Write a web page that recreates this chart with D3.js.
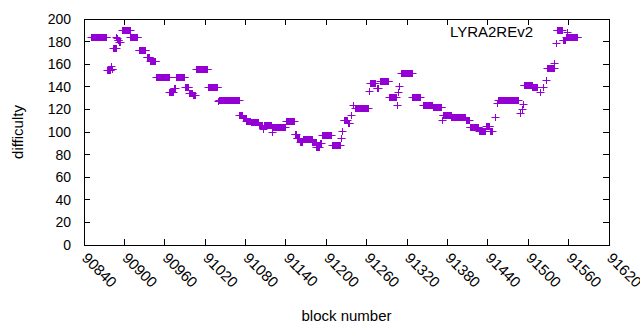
<!DOCTYPE html>
<html>
<head>
<meta charset="utf-8">
<script src="https://cdn.jsdelivr.net/npm/d3@7"></script>
<style>
  body { margin: 0; background: #fff; }
  text { font-family: "Liberation Sans", Arial, sans-serif; fill: #000; }
</style>
</head>
<body>
<div class="container"></div>
<script>
// runs of blocks: first block, last block, difficulty
var runStart = [90851, 90874, 90880, 90881, 90883, 90888, 90889, 90890, 90892, 90897,
                90909, 90921, 90933, 90938, 90947, 90967, 90973, 90977, 90990, 90996,
                91002, 91007, 91024, 91039, 91040, 91071, 91076, 91081, 91088, 91100,
                91106, 91107, 91119, 91120, 91121, 91140, 91153, 91156, 91161, 91165,
                91179, 91185, 91190, 91194, 91209, 91222, 91223, 91226, 91232, 91236,
                91239, 91243, 91264, 91265, 91275, 91280, 91293, 91305, 91307, 91308,
                91311, 91328, 91344, 91358, 91372, 91373, 91386, 91399, 91407, 91413,
                91427, 91437, 91443, 91451, 91454, 91455, 91488, 91490, 91492, 91493,
                91506, 91517, 91522, 91526, 91528, 91539, 91541, 91542, 91551, 91556];
var runEnd   = [90873, 90879, 90880, 90882, 90887, 90888, 90889, 90891, 90893, 90908,
                90919, 90931, 90937, 90946, 90966, 90972, 90975, 90989, 90995, 91001,
                91005, 91023, 91038, 91039, 91070, 91075, 91080, 91087, 91099, 91105,
                91106, 91118, 91119, 91120, 91138, 91152, 91155, 91160, 91164, 91178,
                91184, 91189, 91192, 91207, 91220, 91222, 91223, 91230, 91234, 91236,
                91239, 91262, 91264, 91272, 91277, 91292, 91303, 91305, 91307, 91308,
                91327, 91339, 91357, 91371, 91372, 91385, 91398, 91406, 91412, 91426,
                91436, 91442, 91446, 91451, 91454, 91485, 91488, 91490, 91492, 91505,
                91513, 91517, 91522, 91526, 91538, 91539, 91541, 91550, 91555, 91573];
var runValue = [184, 155, 158, 156, 174, 184, 183, 181, 180, 190,
                184, 173, 166, 162.5, 148.5, 135.5, 138.5, 148.6, 140, 134.5,
                133, 155.5, 139.6, 127, 128, 115, 112, 110, 108.5, 106.5,
                103, 106.5, 104.5, 100, 104.5, 109.5, 98, 95, 91.5, 93.5,
                91, 86.5, 90, 97.2, 88.5, 95, 101, 111, 108, 115,
                124, 121, 136, 143, 138.5, 145, 131, 124, 135, 140.7,
                152, 131, 124, 122.4, 111, 115, 113.5, 113, 111, 104.5,
                100.5, 105, 101, 113, 126, 128.5, 116.5, 120, 124.8, 142,
                140, 135.7, 140, 146, 157, 161, 178.5, 190, 181, 184];

var xTicks = [90840, 90900, 90960, 91020, 91080, 91140, 91200, 91260, 91320, 91380, 91440, 91500, 91560, 91620];
var yTicks = [0, 20, 40, 60, 80, 100, 120, 140, 160, 180, 200];
var seriesName = "LYRA2REv2";

// one point per block
var points = [];
runStart.forEach(function (s, i) {
    for (var b = s; b <= runEnd[i]; b++) points.push({ block: b, value: runValue[i] });
});

var width = 640, height = 330;
var margin = { top: 19, right: 31, bottom: 85, left: 84 };
var color = "#9400d3";
var tickLen = 6;

var svg = d3.select(".container")
    .append("svg")
        .attr("width", width)
        .attr("height", height);

var x = d3.scaleLinear().domain([90840, 91620]).range([margin.left, width - margin.right]);
var y = d3.scaleLinear().domain([0, 200]).range([height - margin.bottom, margin.top]);

var cross = "M-4,0H4M0,-3.5V3.5";
// snap marker centres to the pixel grid so the strokes stay sharp
var px = v => Math.round(v) + 0.5;

// ticks, mirrored on all four sides, pointing inwards
var g = svg.append("g").attr("stroke", "#000").attr("stroke-width", 1).attr("shape-rendering", "crispEdges");
xTicks.forEach(function (t) {
    g.append("line").attr("x1", x(t)).attr("x2", x(t)).attr("y1", y(0)).attr("y2", y(0) - tickLen);
    g.append("line").attr("x1", x(t)).attr("x2", x(t)).attr("y1", y(200)).attr("y2", y(200) + tickLen);
});
yTicks.forEach(function (t) {
    g.append("line").attr("x1", x(90840)).attr("x2", x(90840) + tickLen).attr("y1", y(t)).attr("y2", y(t));
    g.append("line").attr("x1", x(91620)).attr("x2", x(91620) - tickLen).attr("y1", y(t)).attr("y2", y(t));
});

// data
svg.append("g")
    .selectAll("path.pt")
    .data(points)
    .enter()
    .append("path")
        .attr("class", "pt")
        .attr("d", cross)
        .attr("transform", d => "translate(" + px(x(d.block)) + "," + px(y(d.value)) + ")")
        .attr("fill", "none")
        .attr("stroke", color)
        .attr("stroke-width", 1);

// frame
svg.append("rect")
    .attr("x", x(90840)).attr("y", y(200))
    .attr("width", x(91620) - x(90840)).attr("height", y(0) - y(200))
    .attr("fill", "none").attr("stroke", "#000").attr("stroke-width", 1)
    .attr("shape-rendering", "crispEdges");

// tick labels
svg.append("g")
    .selectAll("text")
    .data(yTicks)
    .enter()
    .append("text")
        .attr("x", x(90840) - 13)
        .attr("y", d => y(d))
        .attr("dy", "0.35em")
        .attr("text-anchor", "end")
        .attr("font-size", "14px")
        .text(d => d);

svg.append("g")
    .selectAll("text")
    .data(xTicks)
    .enter()
    .append("text")
        .attr("transform", d => "translate(" + (x(d) - 3) + "," + (y(0) + 14) + ") rotate(45)")
        .attr("text-anchor", "start")
        .attr("font-size", "15px")
        .text(d => d);

// axis titles
svg.append("text")
    .attr("x", (x(90840) + x(91620)) / 2)
    .attr("y", 321)
    .attr("text-anchor", "middle")
    .attr("font-size", "15px")
    .text("block number");

svg.append("text")
    .attr("transform", "translate(23," + ((y(0) + y(200)) / 2) + ") rotate(-90)")
    .attr("text-anchor", "middle")
    .attr("font-size", "15px")
    .text("difficulty");

// key
svg.append("text")
    .attr("x", 533)
    .attr("y", 32)
    .attr("dy", "0.35em")
    .attr("text-anchor", "end")
    .attr("font-size", "15px")
    .text(seriesName);
svg.append("path")
    .attr("d", cross)
    .attr("transform", "translate(567.5,32.5)")
    .attr("fill", "none")
    .attr("stroke", color);
</script>
</body>
</html>
